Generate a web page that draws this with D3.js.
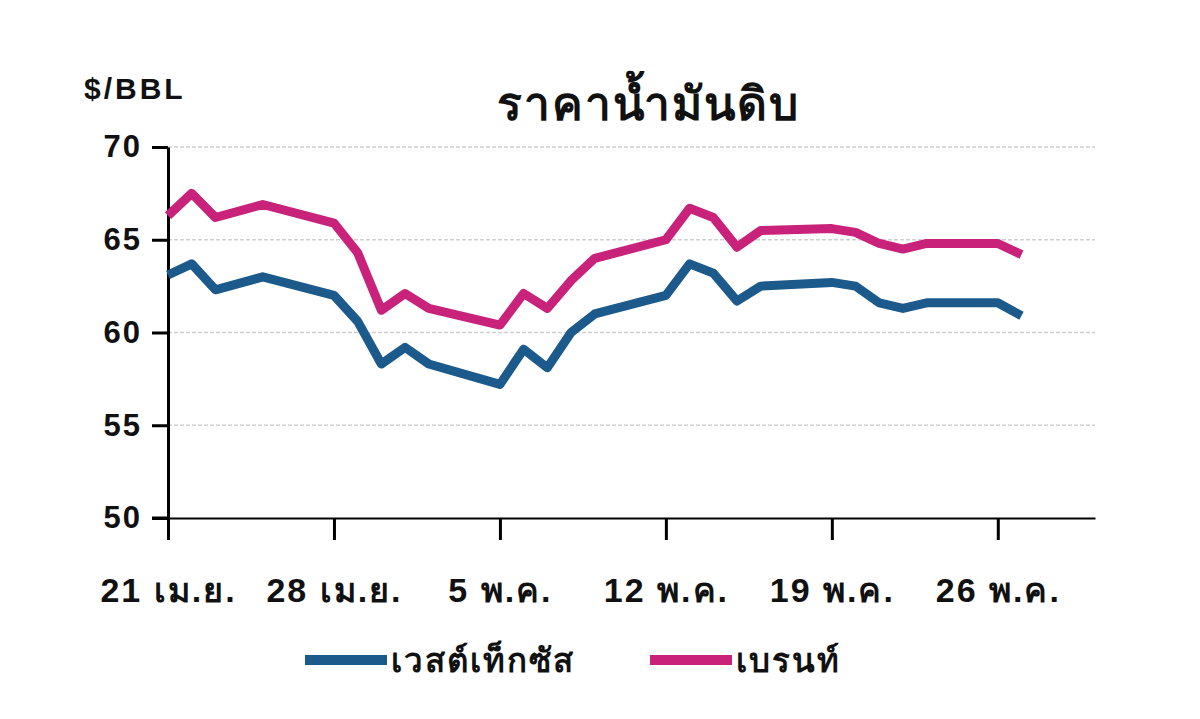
<!DOCTYPE html>
<html><head><meta charset="utf-8">
<script src="https://cdn.jsdelivr.net/npm/d3@7"></script>
<style>body{margin:0;background:#fff}text{font-family:"Liberation Sans",Arial,"Noto Sans",sans-serif}</style>
</head><body><div id="chart"></div>
<script>
// days counted from 21 Apr
var days = [0,1,2,4,7,8,9,10,11,14,15,16,17,18,21,22,23,24,25,28,29,30,31,32,35,36]
var wti = [63.1,63.7,62.3,63.0,62.0,60.6,58.3,59.2,58.3,57.2,59.1,58.1,60.0,61.0,62.0,63.7,63.2,61.7,62.5,62.7,62.5,61.6,61.3,61.6,61.6,60.9]
var brent = [66.3,67.5,66.2,66.9,65.9,64.3,61.2,62.1,61.3,60.4,62.1,61.3,62.8,64.0,65.0,66.7,66.2,64.6,65.5,65.6,65.4,64.8,64.5,64.8,64.8,64.2]
var xTicks = [0,7,14,21,28,35]
var xLabels = ["21 เม.ย.","28 เม.ย.","5 พ.ค.","12 พ.ค.","19 พ.ค.","26 พ.ค."]
var yTicks = [50,55,60,65,70]

var svg = d3.select('#chart').append('svg').attr('width',1200).attr('height',719)
var x = d3.scaleLinear().domain([0,39.1]).range([168,1095])
var y = d3.scaleLinear().domain([50,70]).range([518,147])

// grid
svg.selectAll('line.grid').data(yTicks.slice(1)).enter().append('line')
    .attr('x1',168).attr('x2',1095).attr('y1',d=>y(d)).attr('y2',d=>y(d))
    .attr('stroke','#d0d0d0').attr('stroke-width',1.5).attr('stroke-dasharray','4,2')

// y axis
var ya = svg.append('g').attr('transform','translate(168,0)')
    .call(d3.axisLeft(y).tickValues(yTicks).tickSize(16).tickSizeOuter(0).tickPadding(10))
ya.select('.domain').attr('stroke','#000').attr('stroke-width',3)
ya.selectAll('line').attr('stroke','#000').attr('stroke-width',3)
ya.selectAll('text').attr('font-size',31).attr('font-weight','bold').attr('fill','#111').attr('letter-spacing',2)

// x axis
var xa = svg.append('g').attr('transform','translate(0,518)')
    .call(d3.axisBottom(x).tickValues(xTicks).tickSize(22).tickSizeOuter(0).tickFormat((d,i)=>xLabels[i]).tickPadding(38))
xa.select('.domain').attr('stroke','#000').attr('stroke-width',2)
xa.selectAll('line').attr('stroke','#000').attr('stroke-width',3)
xa.selectAll('text').attr('font-size',34).attr('font-weight','bold').attr('fill','#111').attr('letter-spacing',2)
svg.append('line').attr('x1',152).attr('x2',168).attr('y1',518).attr('y2',518).attr('stroke','#000').attr('stroke-width',3)

var line = d3.line().x((d,i)=>x(days[i])).y(d=>y(d))
var series = [{v:wti,c:'#1b5a8b'},{v:brent,c:'#c8227a'}]
svg.selectAll('path.s').data(series).enter().append('path')
    .attr('d',d=>line(d.v)).attr('fill','none').attr('stroke',d=>d.c)
    .attr('stroke-width',9).attr('stroke-linejoin','round')

svg.append('text').attr('x',648).attr('y',120).attr('text-anchor','middle')
    .attr('font-size',46).attr('font-weight','bold').attr('fill','#111').attr('letter-spacing',2).text('ราคาน้ำมันดิบ')
svg.append('text').attr('x',84).attr('y',99).attr('font-size',30).attr('font-weight','bold').attr('fill','#111').attr('letter-spacing',3).text('$/BBL')

// legend
var legend = [{n:'เวสต์เท็กซัส',c:'#1b5a8b',x:305},{n:'เบรนท์',c:'#c8227a',x:650}]
legend.forEach(function(l){
    svg.append('line').attr('x1',l.x).attr('x2',l.x+82).attr('y1',660).attr('y2',660)
        .attr('stroke',l.c).attr('stroke-width',10)
    svg.append('text').attr('x',l.x+86).attr('y',672).attr('font-size',33).attr('font-weight','bold').attr('fill','#111').attr('letter-spacing',2).text(l.n)
})
</script></body></html>
